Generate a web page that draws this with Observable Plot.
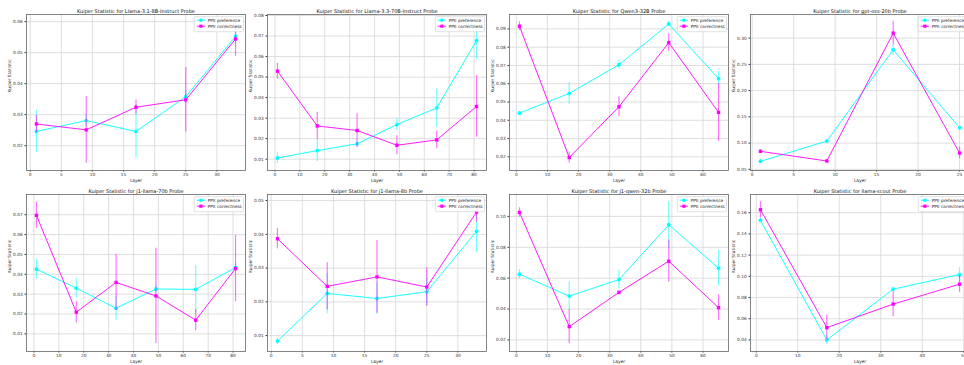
<!DOCTYPE html>
<html><head><meta charset="utf-8">
<script src="https://cdn.jsdelivr.net/npm/d3@7"></script>
<script src="https://cdn.jsdelivr.net/npm/@observablehq/plot@0.6"></script>
<style>
body{margin:0;background:#fff;}
#fig{position:relative;width:964px;height:365px;overflow:hidden;background:#fff;font-family:"DejaVu Sans",sans-serif;}
#fig svg{position:absolute;}
</style></head><body><div id="fig"></div>
<script>
// ---------- data ----------
const seriesNames = ["PPE preference", "PPE correctness"];
const titles = [
  "Kuiper Statistic for Llama-3.1-8B-Instruct Probe",
  "Kuiper Statistic for Llama-3.3-70B-Instruct Probe",
  "Kuiper Statistic for Qwen3-32B Probe",
  "Kuiper Statistic for gpt-oss-20b Probe",
  "Kuiper Statistic for j1-llama-70b Probe",
  "Kuiper Statistic for j1-llama-8b Probe",
  "Kuiper Statistic for j1-qwen-32b Probe",
  "Kuiper Statistic for llama-scout Probe"
];

const p1Layers = [1, 9, 17, 25, 33];
const p1Pref = [0.0246, 0.0281, 0.0246, 0.0358, 0.0552];
const p1PrefErr = [0.0068, 0.0020, 0.0085, 0.0020, 0.0030];
const p1Corr = [0.0270, 0.0251, 0.0324, 0.0348, 0.0544];
const p1CorrErr = [0.0028, 0.0108, 0.0023, 0.0104, 0.0056];
const p1YTicks = [0.02, 0.03, 0.04, 0.05, 0.06];
const p1YLim = [0.0120, 0.0623];
const p1XTicks = [0, 5, 10, 15, 20, 25, 30];

const p2Layers = [1, 17, 33, 49, 65, 81];
const p2Pref = [0.0106, 0.0142, 0.0175, 0.0269, 0.0350, 0.0678];
const p2PrefErr = [0.0028, 0.0053, 0.0010, 0.0030, 0.0094, 0.0092];
const p2Corr = [0.0529, 0.0262, 0.0240, 0.0168, 0.0194, 0.0357];
const p2CorrErr = [0.0038, 0.0067, 0.0083, 0.0046, 0.0043, 0.0150];
const p2YTicks = [0.01, 0.02, 0.03, 0.04, 0.05, 0.06, 0.07, 0.08];
const p2YLim = [0.0045, 0.0805];
const p2XTicks = [0, 10, 20, 30, 40, 50, 60, 70, 80];

const p3Layers = [1, 17, 33, 49, 65];
const p3Pref = [0.0439, 0.0547, 0.0704, 0.0927, 0.0628];
const p3PrefErr = [0.0010, 0.0060, 0.0023, 0.0013, 0.0038];
const p3Corr = [0.0915, 0.0196, 0.0474, 0.0825, 0.0443];
const p3CorrErr = [0.0023, 0.0030, 0.0055, 0.0048, 0.0158];
const p3YTicks = [0.02, 0.03, 0.04, 0.05, 0.06, 0.07, 0.08, 0.09];
const p3YLim = [0.0125, 0.0979];
const p3XTicks = [0, 10, 20, 30, 40, 50, 60];

const p4Layers = [1, 9, 17, 25];
const p4Pref = [0.0652, 0.1039, 0.2778, 0.1293];
const p4PrefErr = [0.0040, 0.0020, 0.0100, 0.0020];
const p4Corr = [0.0843, 0.0659, 0.3095, 0.0811];
const p4CorrErr = [0.0030, 0.0030, 0.0220, 0.0110];
const p4YTicks = [0.05, 0.10, 0.15, 0.20, 0.25, 0.30];
const p4YLim = [0.0478, 0.345];
const p4XTicks = [0, 5, 10, 15, 20, 25];

const p5Layers = [1, 17, 33, 49, 65, 81];
const p5Pref = [0.0426, 0.0330, 0.0229, 0.0326, 0.0324, 0.0434];
const p5PrefErr = [0.0050, 0.0050, 0.0060, 0.0020, 0.0120, 0.0020];
const p5Corr = [0.0697, 0.0209, 0.0359, 0.0291, 0.0169, 0.0429];
const p5CorrErr = [0.0067, 0.0054, 0.0142, 0.0240, 0.0053, 0.0167];
const p5YTicks = [0.01, 0.02, 0.03, 0.04, 0.05, 0.06, 0.07];
const p5YLim = [0.0011, 0.0802];
const p5XTicks = [0, 10, 20, 30, 40, 50, 60, 70, 80];

const p6Layers = [1, 9, 17, 25, 33];
const p6Pref = [0.0084, 0.0225, 0.0210, 0.0230, 0.0409];
const p6PrefErr = [0.0010, 0.0060, 0.0047, 0.0040, 0.0062];
const p6Corr = [0.0387, 0.0246, 0.0274, 0.0244, 0.0466];
const p6CorrErr = [0.0030, 0.0070, 0.0108, 0.0057, 0.0030];
const p6YTicks = [0.01, 0.02, 0.03, 0.04, 0.05];
const p6YLim = [0.0053, 0.0518];
const p6XTicks = [0, 5, 10, 15, 20, 25, 30];

const p7Layers = [1, 17, 33, 49, 65];
const p7Pref = [0.0626, 0.0484, 0.0591, 0.0946, 0.0665];
const p7PrefErr = [0.0030, 0.0093, 0.0060, 0.0150, 0.0116];
const p7Corr = [0.1026, 0.0286, 0.0508, 0.0710, 0.0409];
const p7CorrErr = [0.0030, 0.0110, 0.0010, 0.0137, 0.0083];
const p7YTicks = [0.02, 0.04, 0.06, 0.08, 0.10];
const p7YLim = [0.0125, 0.1142];
const p7XTicks = [0, 10, 20, 30, 40, 50, 60];

const p8Layers = [1, 17, 33, 49];
const p8Pref = [0.1528, 0.0400, 0.0879, 0.1017];
const p8PrefErr = [0.0020, 0.0040, 0.0020, 0.0065];
const p8Corr = [0.1628, 0.0516, 0.0738, 0.0926];
const p8CorrErr = [0.0077, 0.0120, 0.0120, 0.0080];
const p8YTicks = [0.04, 0.06, 0.08, 0.10, 0.12, 0.14, 0.16];
const p8YLim = [0.0291, 0.1772];
const p8XTicks = [0, 10, 20, 30, 40, 50];

const panels = [
  [p1Layers, p1Pref, p1PrefErr, p1Corr, p1CorrErr, p1YTicks, p1YLim, p1XTicks],
  [p2Layers, p2Pref, p2PrefErr, p2Corr, p2CorrErr, p2YTicks, p2YLim, p2XTicks],
  [p3Layers, p3Pref, p3PrefErr, p3Corr, p3CorrErr, p3YTicks, p3YLim, p3XTicks],
  [p4Layers, p4Pref, p4PrefErr, p4Corr, p4CorrErr, p4YTicks, p4YLim, p4XTicks],
  [p5Layers, p5Pref, p5PrefErr, p5Corr, p5CorrErr, p5YTicks, p5YLim, p5XTicks],
  [p6Layers, p6Pref, p6PrefErr, p6Corr, p6CorrErr, p6YTicks, p6YLim, p6XTicks],
  [p7Layers, p7Pref, p7PrefErr, p7Corr, p7CorrErr, p7YTicks, p7YLim, p7XTicks],
  [p8Layers, p8Pref, p8PrefErr, p8Corr, p8CorrErr, p8YTicks, p8YLim, p8XTicks]
];

// ---------- drawing ----------
const CYAN = "#00ffff", MAGENTA = "#ff00ff";
const fig = document.getElementById("fig");
const frameLefts = [25.5, 267, 508.5, 750];
const FW = 219, mL = 28, mR = 4, mT = 14, mB = 16;
const TICK_FS = 4.3;

panels.forEach((p, i) => {
  const [layers, pv, pe, cv, ce, yTicks, yLim, xTicks] = p;
  const col = i % 4, row = Math.floor(i / 4);
  const FH = row ? 157 : 156;
  const [x0, x1] = d3.extent(layers);
  const pad = (x1 - x0) * 0.05;
  const pref = layers.map((x, k) => ({x, y: pv[k], e: pe[k]}));
  const corr = layers.map((x, k) => ({x, y: cv[k], e: ce[k]}));
  const series = (data, color, symbol) => [
    Plot.ruleX(data, {x: "x", y1: d => d.y - d.e, y2: d => d.y + d.e, stroke: color, strokeWidth: 1.2, strokeOpacity: 0.55}),
    Plot.line(data, {x: "x", y: "y", stroke: color, strokeWidth: 0.9}),
    Plot.dot(data, {x: "x", y: "y", fill: color, r: 1.9, symbol})
  ];
  const svg = Plot.plot({
    width: mL + FW + mR,
    height: mT + FH + mB,
    marginLeft: mL, marginRight: mR, marginTop: mT, marginBottom: mB,
    style: {background: "transparent", fontFamily: "DejaVu Sans", overflow: "visible"},
    x: {domain: [x0 - pad, x1 + pad]},
    y: {domain: yLim},
    marks: [
      Plot.gridX({ticks: xTicks, stroke: "#d6d6d6", strokeOpacity: 1, strokeWidth: 0.8}),
      Plot.gridY({ticks: yTicks, stroke: "#d6d6d6", strokeOpacity: 1, strokeWidth: 0.8}),
      Plot.axisX({ticks: xTicks, tickSize: 1.5, tickPadding: 0.8, fontSize: TICK_FS, label: null, color: "#333"}),
      Plot.axisY({ticks: yTicks, tickFormat: d3.format(".2f"), tickSize: 1.5, tickPadding: 2.3, fontSize: TICK_FS, label: null, color: "#333"}),
      ...series(pref, CYAN, "circle"),
      ...series(corr, MAGENTA, "square"),
      Plot.frame({stroke: "#666", strokeWidth: 0.8}),
      Plot.text([titles[i]], {text: d => d, frameAnchor: "top", dy: -2, lineAnchor: "bottom", fontSize: 5, fill: "#111"}),
      Plot.text(["Kuiper Statistic"], {text: d => d, frameAnchor: "left", dx: -16.5, rotate: -90, fontSize: 4.4, fill: "#222"}),
      Plot.text(["Layer"], {text: d => d, frameAnchor: "bottom", dy: 10.5, lineAnchor: "middle", fontSize: 4.4, fill: "#222"})
    ]
  });
  svg.style.left = (frameLefts[col] - mL) + "px";
  svg.style.top = (row ? 180 : 0) + "px";

  // legend (upper right, inside the frame)
  const g = d3.select(svg).append("g")
    .attr("transform", `translate(${mL + FW},${mT})`)
    .attr("text-anchor", "start");
  g.append("rect").attr("x", -50.7).attr("y", 2.7).attr("width", 49.2).attr("height", 15)
    .attr("rx", 1).attr("fill", "white").attr("fill-opacity", 0.85)
    .attr("stroke", "#cccccc").attr("stroke-width", 0.6);
  [[seriesNames[0], CYAN, d3.symbolCircle, 6.2], [seriesNames[1], MAGENTA, d3.symbolSquare, 12.2]]
    .forEach(([name, color, sym, y]) => {
      g.append("line").attr("x1", -48.3).attr("x2", -40).attr("y1", y).attr("y2", y)
        .attr("stroke", color).attr("stroke-width", 0.9);
      g.append("path").attr("d", d3.symbol(sym, Math.PI * 1.8 * 1.8)())
        .attr("transform", `translate(-44.1,${y})`).attr("fill", color);
      g.append("text").attr("x", -37.3).attr("y", y).attr("dy", "0.35em")
        .attr("text-anchor", "start")
        .attr("font-size", TICK_FS).attr("fill", "#222").text(name);
    });
  fig.appendChild(svg);
});
</script></body></html>
